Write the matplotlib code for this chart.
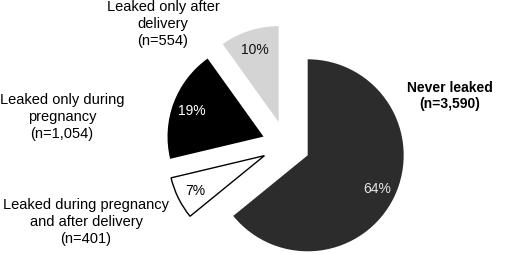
import matplotlib
matplotlib.use("Agg")
import matplotlib.pyplot as plt

plt.rcParams['font.family'] = ['Liberation Sans', 'DejaVu Sans']

# data
groups = ["Never leaked", "Leaked during pregnancy\nand after delivery",
          "Leaked only during\npregnancy", "Leaked only after\ndelivery"]
counts = [3590, 401, 1054, 554]
n_labels = ["(n=3,590)", "(n=401)", "(n=1,054)", "(n=554)"]
colors = ["#2c2c2c", "#ffffff", "#000000", "#d4d4d4"]
pct_colors = ["#e6e6e6", "#000000", "#ffffff", "#111111"]

W, H = 507, 255
fig = plt.figure(figsize=(W / 100, H / 100), dpi=100)
ax = fig.add_axes([0, 0, 1, 1])

# explode is in data units (pixels here), pctdistance is relative to radius
wedges, texts, autotexts = ax.pie(
    counts, colors=colors, startangle=90, counterclock=False,
    explode=[24] * 4, radius=96, center=(286, H - 146),
    autopct='%.0f%%', pctdistance=0.8, frame=True,
    textprops=dict(fontsize=10))
ax.set_xlim(0, W)
ax.set_ylim(0, H)
ax.set_aspect('equal')
ax.axis('off')

for w in wedges:
    w.set_linewidth(0)
wedges[1].set_edgecolor('black')
wedges[1].set_linewidth(1.0)
for t, c in zip(autotexts, pct_colors):
    t.set_color(c)

# outer labels (pixel positions, y from top)
label_pos = [(450, 96), (86, 222), (62, 117), (163, 24)]
for i, (g, n) in enumerate(zip(groups, n_labels)):
    x, y = label_pos[i]
    ax.text(x, H - y, g + "\n" + n, ha='center', va='center',
            fontsize=10 if i == 0 else 10.5, linespacing=1.25,
            fontweight='bold' if i == 0 else 'normal')

fig.savefig("out.png", dpi=100)
